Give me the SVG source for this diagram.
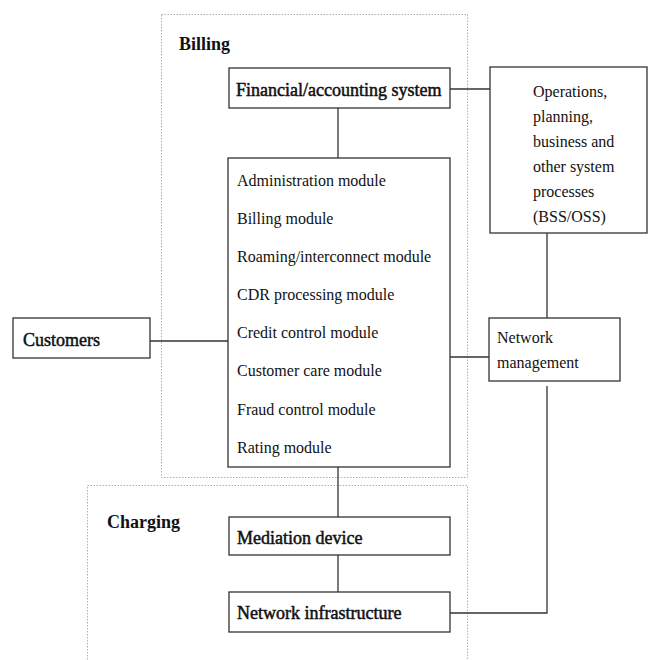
<svg xmlns="http://www.w3.org/2000/svg" width="651" height="660" viewBox="0 0 651 660">
<style>
.box{fill:#fff;stroke:#333;stroke-width:1.3}
.area{fill:none;stroke:#b0b0b0;stroke-width:1;stroke-dasharray:1.5 1.5}
.ln{fill:none;stroke:#333;stroke-width:1.3}
.t{font-family:"Liberation Serif","Times New Roman",serif;font-size:16px;fill:#111}
.h{font-family:"Liberation Serif","Times New Roman",serif;font-size:18px;fill:#111;stroke:#111;stroke-width:0.5}
.g{font-family:"Liberation Serif","Times New Roman",serif;font-size:18px;font-weight:bold;fill:#111}
</style>
<rect width="651" height="660" fill="#fff"/>
<g id="billing-area">
<rect class="area" x="161.5" y="14.5" width="306" height="463"/>
<text class="g" x="179" y="50">Billing</text>
</g>
<g id="charging-area">
<rect class="area" x="87.5" y="485.5" width="380" height="190"/>
<text class="g" x="107" y="528">Charging</text>
</g>
<g id="connectors">
<line class="ln" x1="338" y1="108" x2="338" y2="158"/>
<line class="ln" x1="450" y1="89" x2="490" y2="89"/>
<line class="ln" x1="547" y1="233" x2="547" y2="318"/>
<line class="ln" x1="150" y1="341" x2="228" y2="341"/>
<line class="ln" x1="450" y1="357" x2="489" y2="357"/>
<line class="ln" x1="338" y1="455" x2="338" y2="517"/>
<line class="ln" x1="338" y1="555" x2="338" y2="592"/>
<polyline class="ln" points="547,386 547,613 450,613"/>
</g>
<g id="financial">
<rect class="box" x="229" y="68" width="221" height="40"/>
<text class="h" x="236" y="96">Financial/accounting system</text>
</g>
<g id="modules">
<rect class="box" x="228" y="158" width="222" height="309"/>
<text class="t" x="237" y="186">Administration module</text>
<text class="t" x="237" y="224">Billing module</text>
<text class="t" x="237" y="262">Roaming/interconnect module</text>
<text class="t" x="237" y="300">CDR processing module</text>
<text class="t" x="237" y="338">Credit control module</text>
<text class="t" x="237" y="376">Customer care module</text>
<text class="t" x="237" y="415">Fraud control module</text>
<text class="t" x="237" y="453">Rating module</text>
</g>
<g id="operations">
<rect class="box" x="490" y="67" width="157" height="166"/>
<text class="t" x="533" y="97">Operations,</text>
<text class="t" x="533" y="122">planning,</text>
<text class="t" x="533" y="147">business and</text>
<text class="t" x="533" y="172">other system</text>
<text class="t" x="533" y="197">processes</text>
<text class="t" x="533" y="222">(BSS/OSS)</text>
</g>
<g id="customers">
<rect class="box" x="13" y="318" width="137" height="40"/>
<text class="h" x="23" y="346">Customers</text>
</g>
<g id="network-management">
<rect class="box" x="489" y="318" width="131" height="63"/>
<text class="t" x="497" y="343">Network</text>
<text class="t" x="497" y="368">management</text>
</g>
<g id="mediation">
<rect class="box" x="229" y="517" width="221" height="38"/>
<text class="h" x="237" y="544">Mediation device</text>
</g>
<g id="network-infrastructure">
<rect class="box" x="229" y="592" width="221" height="40"/>
<text class="h" x="237" y="619">Network infrastructure</text>
</g>
</svg>
